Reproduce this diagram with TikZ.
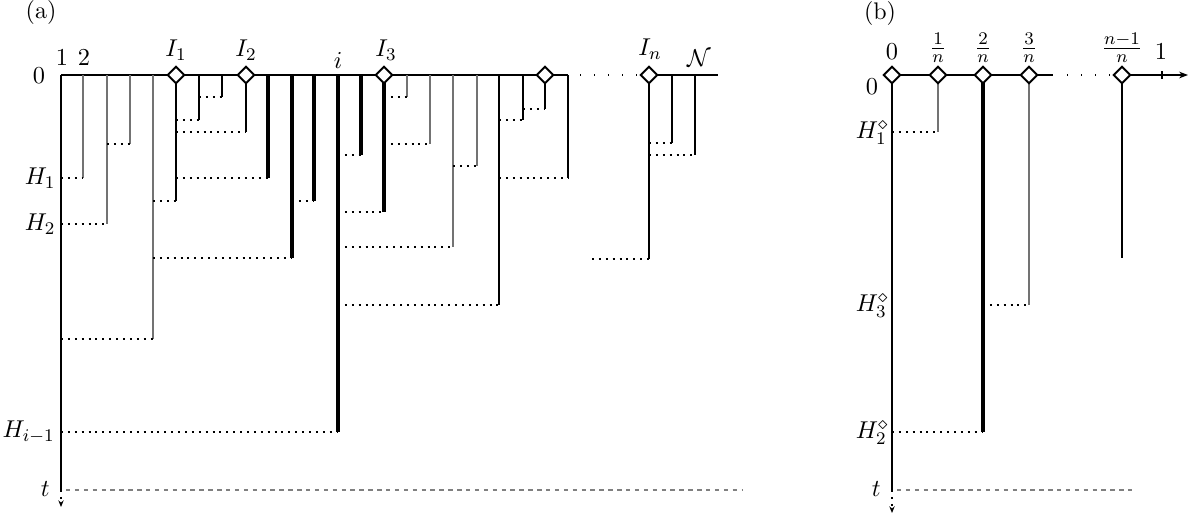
\documentclass[tikz,border=0pt]{standalone}
\usetikzlibrary{shapes.geometric,arrows.meta}
\newcommand\mybr[4]{\draw[#4] (#1,75) -- (#1,#2); \draw[dotline] (#3,#2) -- (#1,#2);}
\begin{document}
\begin{tikzpicture}[x=0.45pt,y=-0.45pt,
  thinline/.style={line width=0.5pt},
  grayline/.style={line width=0.5pt, black!55},
  thickline/.style={line width=1.4pt},
  dotline/.style={line width=0.5pt, dash pattern=on 0.9pt off 2.2pt},
  axisdots/.style={line width=0.6pt, dash pattern=on 0.6pt off 5.7pt},
  gdash/.style={line width=0.55pt, black!50, dash pattern=on 2pt off 2pt},
  axisline/.style={line width=0.6pt},
  dmd/.style={diamond, draw, line width=0.9pt, fill=white, inner sep=0pt, minimum size=7.8pt},
  lbl/.style={inner sep=0pt, font=\fontsize{10.8pt}{13pt}\selectfont},
]
\useasboundingbox (0,0) rectangle (1194,517);
%%%%%%%%%%%%%%%% panel (a)
\node[lbl] (pa) at (41,12) {(a)};
\node[lbl] (za) at (39,76) {$0$};
\node[lbl] (one) at (62,58) {$1$};
\node[lbl] (two) at (84,58) {$2$};
% axis
\draw[axisline] (61,75) -- (568,75);
\draw[axisdots] (580,75) -- (640,75);
\draw[axisline] (640,75) -- (718,75);
% main vertical
\draw[thinline] (61,75) -- (61,490);
\draw[dotline,-{Stealth[length=3pt,width=2.4pt]}] (61,490) -- (61,507);
% branches: x, yend, parent x, style
\mybr{83}{178}{61}{grayline}
\mybr{107}{224}{61}{grayline}
\mybr{130}{144}{107}{grayline}
\mybr{153}{339}{61}{grayline}
\mybr{176}{201}{153}{thinline}
\mybr{199}{120}{176}{thinline}
\mybr{222}{97}{199}{thinline}
\mybr{246}{132}{176}{thinline}
\mybr{268}{178}{176}{thickline}
\mybr{292}{258}{153}{thickline}
\mybr{314}{201}{292}{thickline}
\mybr{338}{432}{61}{thickline}
\mybr{361}{155}{338}{thickline}
\mybr{384}{212}{338}{thickline}
\mybr{407}{97}{384}{grayline}
\mybr{430}{144}{384}{grayline}
\mybr{453}{247}{338}{grayline}
\mybr{477}{166}{453}{grayline}
\mybr{499}{305}{338}{thinline}
\mybr{523}{120}{499}{thinline}
\mybr{545}{109}{523}{thinline}
\mybr{568}{178}{499}{thinline}
\mybr{649}{259}{592}{thinline}
\mybr{672}{143}{649}{thinline}
\mybr{695}{155}{649}{thinline}
% diamonds
\node[dmd] (I1) at (176,75) {};
\node[dmd] (I2) at (246,75) {};
\node[dmd] (I3) at (384,75) {};
\node[dmd] (I4) at (545,75) {};
\node[dmd] (In) at (649,75) {};
\node[lbl] (lI1) at (176,50) {$I_1$};
\node[lbl] (lI2) at (246,50) {$I_2$};
\node[lbl] (li) at (338,60) {$i$};
\node[lbl] (lI3) at (386,50) {$I_3$};
\node[lbl] (lIn) at (650,49) {$I_n$};
\node[lbl] (lN) at (699,58) {$\mathcal{N}$};
% left labels
\node[lbl,anchor=east] (H1) at (56,178) {$H_1$};
\node[lbl,anchor=east] (H2) at (56,224) {$H_2$};
\node[lbl,anchor=east] (Hi) at (55,432) {$H_{i-1}$};
\node[lbl,anchor=east] (ta) at (50,489) {$t$};
\draw[gdash] (66,490) -- (742,490);
%%%%%%%%%%%%%%%% panel (b)
\node[lbl] (pb) at (880,13) {(b)};
\node[lbl] (zb) at (872,87) {$0$};
\draw[axisline] (892,75) -- (1053,75);
\draw[axisdots] (1067,75) -- (1112,75);
\draw[axisline,-{Stealth[length=4pt,width=3pt]}] (1122,75) -- (1188,75);
\draw[axisline] (1162,71) -- (1162,79);
\draw[thinline] (892,75) -- (892,490);
\draw[dotline,-{Stealth[length=3pt,width=2.4pt]}] (892,490) -- (892,513);
\mybr{938}{132}{892}{grayline}
\mybr{983}{432}{892}{thickline}
\mybr{1029}{305}{983}{grayline}
\draw[thinline] (1122,75) -- (1122,258);
\node[dmd] (B0) at (892,75) {};
\node[dmd] (B1) at (938,75) {};
\node[dmd] (B2) at (983,75) {};
\node[dmd] (B3) at (1029,75) {};
\node[dmd] (Bn) at (1122,75) {};
\node[lbl] (l0) at (892,52) {$0$};
\node[lbl] (l1) at (938,48) {$\frac{1}{n}$};
\node[lbl] (l2) at (983,48) {$\frac{2}{n}$};
\node[lbl] (l3) at (1029,48) {$\frac{3}{n}$};
\node[lbl] (ln) at (1122,48) {$\frac{n-1}{n}$};
\node[lbl] (lone) at (1161,52) {$1$};
\node[lbl,anchor=east] (HB1) at (889,133) {$H_1^\diamond$};
\node[lbl,anchor=east] (HB3) at (889,306) {$H_3^\diamond$};
\node[lbl,anchor=east] (HB2) at (889,433) {$H_2^\diamond$};
\node[lbl,anchor=east] (tb) at (881,489) {$t$};
\draw[gdash] (897,490) -- (1132,490);
\end{tikzpicture}
\end{document}
